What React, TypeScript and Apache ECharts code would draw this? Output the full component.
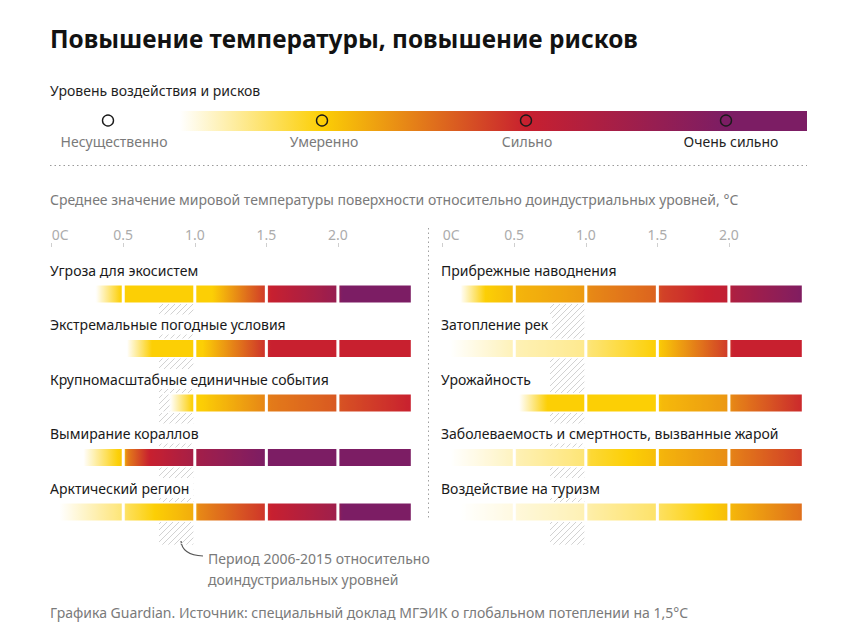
import React, { useEffect, useRef } from 'react';
import * as echarts from 'echarts';

// ---------- texts ----------
const TITLE = 'Повышение температуры, повышение рисков';
const LEGEND_TITLE = 'Уровень воздействия и рисков';
const LEVEL_LABELS = ['Несущественно', 'Умеренно', 'Сильно', 'Очень сильно'];
const LEVEL_COLORS = ['#ffffff', '#fccf05', '#c8202f', '#7c1d64'];
const AXIS_TITLE = 'Среднее значение мировой температуры поверхности относительно доиндустриальных уровней, °C';
const TICK_VALUES = [0, 0.5, 1.0, 1.5, 2.0];
const SEGMENT_BOUNDS = [0, 0.5, 1.0, 1.5, 2.0, 2.52];
const PERIOD_RANGE = [0.75, 0.99];
const PERIOD_NOTE = ['Период 2006-2015 относительно', 'доиндустриальных уровней'];
const SOURCE = 'Графика Guardian. Источник: специальный доклад МГЭИК о глобальном потеплении на 1,5°C';

const LEFT_CATEGORIES = [
  'Угроза для экосистем',
  'Экстремальные погодные условия',
  'Крупномасштабные единичные события',
  'Вымирание кораллов',
  'Арктический регион',
];
const RIGHT_CATEGORIES = [
  'Прибрежные наводнения',
  'Затопление рек',
  'Урожайность',
  'Заболеваемость и смертность, вызванные жарой',
  'Воздействие на туризм',
];

// ---------- risk levels: [temperature °C, level 0 (none) .. 3 (very high)] ----------
const ECOSYSTEMS = [[0.31, 0], [0.49, 1], [1.12, 1], [1.5, 1.85], [1.52, 2], [2.0, 2.65], [2.02, 3], [2.52, 3]];
const EXTREME_WEATHER = [[0.52, 0], [0.7, 1], [1.05, 1], [1.5, 1.9], [1.52, 2], [2.52, 2]];
const LARGE_SCALE = [[0.83, 0], [0.99, 1], [1.04, 1], [1.5, 1.42], [1.52, 1.48], [2.0, 1.68], [2.02, 1.72], [2.52, 2]];
const CORALS = [[0.22, 0], [0.47, 1], [0.5, 1.05], [0.52, 1.45], [0.68, 2], [1.0, 2.45], [1.02, 2.5], [1.5, 3], [2.52, 3]];
const ARCTIC = [[0.05, 0], [0.5, 0.55], [0.52, 0.65], [0.72, 1], [1.0, 1.2], [1.02, 1.4], [1.5, 1.88], [1.52, 2], [2.0, 2.55], [2.02, 3], [2.52, 3]];

const COASTAL = [[0.12, 0], [0.3, 1], [0.5, 1.12], [0.52, 1.15], [1.0, 1.3], [1.02, 1.4], [1.5, 1.62], [1.52, 1.8], [2.0, 2.1], [2.02, 2.35], [2.52, 2.95]];
const FLUVIAL = [[0.05, 0], [0.5, 0.28], [0.52, 0.3], [1.0, 0.45], [1.02, 0.55], [1.5, 1.0], [1.52, 1.05], [2.0, 1.85], [2.02, 2], [2.52, 2]];
const CROPS = [[0.53, 0], [0.73, 1], [1.5, 1], [1.52, 1.12], [2.0, 1.32], [2.02, 1.42], [2.52, 1.95]];
const HEAT = [[0.05, 0], [0.5, 0.25], [0.52, 0.3], [1.0, 0.55], [1.02, 0.8], [1.3, 1.0], [1.5, 1.1], [1.52, 1.15], [2.0, 1.38], [2.02, 1.45], [2.52, 1.85]];
const TOURISM = [[0.12, 0], [0.5, 0.12], [0.52, 0.15], [1.0, 0.3], [1.02, 0.35], [1.5, 0.6], [1.52, 0.65], [1.85, 1.0], [2.0, 1.1], [2.02, 1.15], [2.52, 1.55]];

const LEFT_RISKS = [ECOSYSTEMS, EXTREME_WEATHER, LARGE_SCALE, CORALS, ARCTIC];
const RIGHT_RISKS = [COASTAL, FLUVIAL, CROPS, HEAT, TOURISM];

// ---------- helpers ----------
const FONT = "'Noto Sans', 'Open Sans', sans-serif";

function hexToRgb(h: string) {
  const n = parseInt(h.slice(1), 16);
  return [(n >> 16) & 255, (n >> 8) & 255, n & 255];
}
const PALETTE = LEVEL_COLORS.map(hexToRgb);

function levelColor(L: number) {
  const l = Math.max(0, Math.min(3, L));
  const i = Math.min(2, Math.floor(l));
  const f = l - i;
  const a = PALETTE[i], b = PALETTE[i + 1];
  const c = a.map((v, k) => Math.round(v + (b[k] - v) * f));
  return `rgb(${c[0]},${c[1]},${c[2]})`;
}

function levelAt(stops: number[][], t: number): number | null {
  if (t < stops[0][0] - 1e-9) return null;
  for (let i = 1; i < stops.length; i++) {
    if (t <= stops[i][0]) {
      const [t0, l0] = stops[i - 1];
      const [t1, l1] = stops[i];
      const f = t1 === t0 ? 1 : (t - t0) / (t1 - t0);
      return l0 + (l1 - l0) * f;
    }
  }
  return stops[stops.length - 1][1];
}

function segmentGradient(stops: number[][], a: number, b: number) {
  const N = 30;
  const colorStops: any[] = [];
  for (let k = 0; k <= N; k++) {
    const t = a + ((b - a) * k) / N;
    const L = levelAt(stops, t);
    colorStops.push({ offset: k / N, color: L === null ? 'rgba(255,255,255,0)' : levelColor(L) });
  }
  return { type: 'linear', x: 0, y: 0, x2: 1, y2: 0, colorStops };
}

// ---------- layout ----------
const GRID_TOP = 266.75;
const GRID_HEIGHT = 272.5;
const PANELS = [
  { left: 51.7, width: 360.6, cats: LEFT_CATEGORIES, risks: LEFT_RISKS },
  { left: 442.7, width: 360.6, cats: RIGHT_CATEGORIES, risks: RIGHT_RISKS },
];

function buildOption() {
  const grid: any[] = [];
  const xAxis: any[] = [];
  const yAxis: any[] = [];
  const series: any[] = [];

  PANELS.forEach((p, gi) => {
    grid.push({ left: p.left, top: GRID_TOP, width: p.width, height: GRID_HEIGHT });
    xAxis.push({
      type: 'value',
      gridIndex: gi,
      min: 0,
      max: SEGMENT_BOUNDS[SEGMENT_BOUNDS.length - 1],
      position: 'top',
      offset: 19.75,
      axisLine: { show: false },
      splitLine: { show: false },
      axisTick: { show: true, length: 4, lineStyle: { color: '#cfcfcf' }, customValues: TICK_VALUES },
      axisLabel: {
        customValues: TICK_VALUES,
        alignMinLabel: 'left',
        formatter: (v: number) => (v === 0 ? '0C' : v.toFixed(1)),
        color: '#acacac',
        fontSize: 14,
        fontFamily: FONT,
        margin: 6,
      },
    });
    yAxis.push({
      type: 'category',
      gridIndex: gi,
      inverse: true,
      data: p.cats,
      show: false,
    });

    // hatch for 2006-2015 period
    series.push({
      type: 'custom',
      xAxisIndex: gi,
      yAxisIndex: gi,
      silent: true,
      z: 1,
      clip: false,
      data: [[PERIOD_RANGE[0], PERIOD_RANGE[1], 0]],
      encode: { x: [0, 1], y: 2 },
      renderItem: (params: any, api: any) => {
        const x0 = api.coord([api.value(0), 0])[0];
        const x1 = api.coord([api.value(1), 0])[0];
        const band = api.size([0, 1])[1];
        const y0 = api.coord([0, 0])[1] - 10;
        const y1 = api.coord([0, p.cats.length - 1])[1] + band * 0.6;
        const children: any[] = [];
        const step = 6;
        for (let c = x0 + y0; c <= x1 + y1; c += step) {
          const xa = Math.max(x0, c - y1);
          const xb = Math.min(x1, c - y0);
          if (xb > xa) {
            children.push({
              type: 'line',
              shape: { x1: xa, y1: c - xa, x2: xb, y2: c - xb },
              style: { stroke: '#d2d2d2', lineWidth: 1 },
            });
          }
        }
        return { type: 'group', children };
      },
    });

    // risk bars, one stacked series per temperature segment
    for (let s = 0; s < SEGMENT_BOUNDS.length - 1; s++) {
      const a = SEGMENT_BOUNDS[s], b = SEGMENT_BOUNDS[s + 1];
      series.push({
        type: 'bar',
        xAxisIndex: gi,
        yAxisIndex: gi,
        stack: 'risk' + gi,
        barWidth: 20,
        z: 2,
        silent: true,
        itemStyle: { borderColor: '#ffffff', borderWidth: 1.5 },
        data: p.risks.map((r) => ({ value: +(b - a).toFixed(2), itemStyle: { color: segmentGradient(r, a, b) } })),
      });
    }

    // row labels
    series.push({
      type: 'custom',
      xAxisIndex: gi,
      yAxisIndex: gi,
      silent: true,
      z: 5,
      clip: false,
      data: p.cats.map((name, i) => ({ name, value: [0, i] })),
      encode: { x: 0, y: 1 },
      renderItem: (params: any, api: any) => {
        const pt = api.coord([0, api.value(1)]);
        return {
          type: 'text',
          x: pt[0] - 1.7,
          y: pt[1] - 24,
          style: {
            text: p.cats[params.dataIndex],
            fill: '#1a1a1a',
            font: `14px ${FONT}`,
            textAlign: 'left',
            textVerticalAlign: 'middle',
            backgroundColor: '#ffffff',
            padding: [3, 4, 3, 0],
          },
        };
      },
    });
  });

  // legend / decorations
  const LEG_X = [108, 322, 526, 726];
  const LEG_LABEL_X = [114, 324, 527, 731];
  const G0 = 180, G1 = 807;
  const legendStops = [{ offset: 0, color: 'rgba(255,255,255,1)' }];
  for (let i = 1; i < LEVEL_COLORS.length; i++) {
    legendStops.push({ offset: (LEG_X[i] - G0) / (G1 - G0), color: LEVEL_COLORS[i] });
  }
  legendStops.push({ offset: 1, color: LEVEL_COLORS[LEVEL_COLORS.length - 1] });

  const graphic: any[] = [
    { type: 'text', x: 50, y: 38, style: { text: TITLE, fill: '#121212', font: `bold 24.4px ${FONT}`, textVerticalAlign: 'middle' } },
    { type: 'text', x: 50, y: 90, style: { text: LEGEND_TITLE, fill: '#1f1f1f', font: `14px ${FONT}`, textVerticalAlign: 'middle' } },
    {
      type: 'rect',
      shape: { x: G0, y: 111, width: G1 - G0, height: 20 },
      style: { fill: { type: 'linear', x: 0, y: 0, x2: 1, y2: 0, colorStops: legendStops } },
    },
    ...LEVEL_LABELS.map((t, i) => ({
      type: 'circle',
      shape: { cx: LEG_X[i], cy: 120.5, r: 5.5 },
      style: { fill: 'none', stroke: '#1a1a1a', lineWidth: 1.4 },
    })),
    ...LEVEL_LABELS.map((t, i) => ({
      type: 'text',
      x: LEG_LABEL_X[i],
      y: 141,
      style: {
        text: t,
        fill: i === LEVEL_LABELS.length - 1 ? '#1f1f1f' : '#7a7a7a',
        font: `14px ${FONT}`,
        textAlign: 'center',
        textVerticalAlign: 'middle',
      },
    })),
    { type: 'line', shape: { x1: 50, y1: 165.5, x2: 807, y2: 165.5 }, style: { stroke: '#9a9a9a', lineWidth: 1, lineDash: [1.5, 3] } },
    { type: 'text', x: 50, y: 199, style: { text: AXIS_TITLE, fill: '#7a7a7a', font: `14px ${FONT}`, textVerticalAlign: 'middle' } },
    { type: 'line', shape: { x1: 428.5, y1: 228, x2: 428.5, y2: 520 }, style: { stroke: '#a0a0a0', lineWidth: 1, lineDash: [1.5, 3] } },
    {
      type: 'bezierCurve',
      shape: { x1: 181, y1: 541, x2: 203, y2: 556, cpx1: 182, cpy1: 555 },
      style: { stroke: '#555', lineWidth: 1.2, fill: 'none' },
    },
    { type: 'text', x: 208, y: 558, style: { text: PERIOD_NOTE[0], fill: '#7a7a7a', font: `14px ${FONT}`, textVerticalAlign: 'middle' } },
    { type: 'text', x: 208, y: 579, style: { text: PERIOD_NOTE[1], fill: '#7a7a7a', font: `14px ${FONT}`, textVerticalAlign: 'middle' } },
    { type: 'text', x: 50, y: 612, style: { text: SOURCE, fill: '#7a7a7a', font: `14px ${FONT}`, textVerticalAlign: 'middle' } },
  ];

  return { animation: false, backgroundColor: '#ffffff', grid, xAxis, yAxis, series, graphic };
}

export default function App() {
  const ref = useRef<HTMLDivElement>(null);
  useEffect(() => {
    const chart = echarts.init(ref.current!, null, { renderer: 'svg' });
    chart.setOption(buildOption() as any);
    return () => chart.dispose();
  }, []);
  return (
    <div
      ref={ref}
      style={{ position: 'fixed', left: 0, top: 0, width: 850, height: 639, background: '#ffffff' }}
    />
  );
}
